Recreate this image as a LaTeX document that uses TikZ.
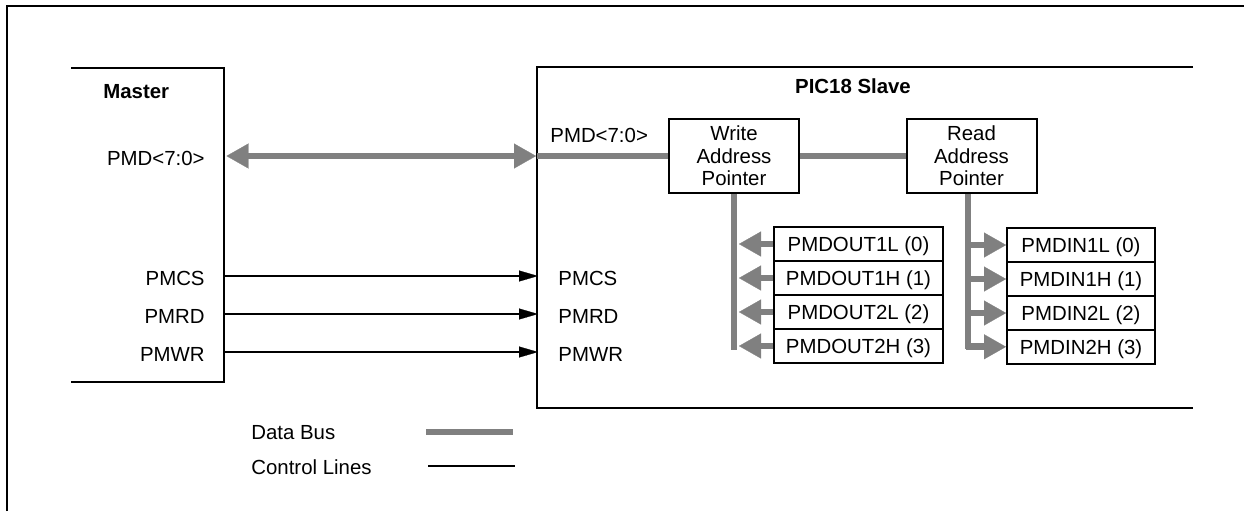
\documentclass[tikz,border=0pt]{standalone}
\usepackage{fontspec}
\setmainfont{Liberation Sans}
\usetikzlibrary{arrows.meta}
\definecolor{busgray}{RGB}{128,128,128}
\newcommand{\lblfont}{\fontsize{10.2pt}{11.25pt}\selectfont}
\begin{document}
\begin{tikzpicture}[x=0.5pt,y=-0.5pt,
  frame/.style={line width=1pt},
  bus/.style={draw=busgray,line width=3.4pt},
  busarrow/.style={bus,-{Triangle[length=11pt,width=12.5pt,line width=0.1pt]}},
  dblarrow/.style={bus,{Triangle[length=11pt,width=12.5pt,line width=0.1pt]}-{Triangle[length=11pt,width=12.5pt,line width=0.1pt]}},
  ctrl/.style={line width=1pt,-{Triangle[length=9.5pt,width=5.5pt,line width=0.1pt]}},
  lbl/.style={inner sep=0pt,font=\lblfont},
  ptr/.style={draw,line width=1pt,fill=white,minimum width=65pt,minimum height=37pt,align=center,inner sep=0pt,font=\lblfont},
  outreg/.style={draw,line width=1pt,minimum width=84.5pt,minimum height=17pt,inner sep=0pt,text depth=0pt,font=\lblfont},
  inreg/.style={draw,line width=1pt,minimum width=74pt,minimum height=17pt,inner sep=0pt,text depth=0pt,font=\lblfont}
]
\useasboundingbox (0,0) rectangle (1244,511);
% outer frame
\draw[frame] (6.5,511) -- (6.5,6) -- (1244,6);
% master box (open left)
\draw[frame,line join=miter] (71,68) -- (224,68) -- (224,382) -- (71,382);
% slave box (open right)
\draw[frame,line join=miter] (1193,67) -- (537,67) -- (537,408) -- (1193,408);

% master labels
\node[lbl,anchor=base west,font=\lblfont\bfseries] (mtitle) at (103,98) {Master};
\node[lbl,anchor=base east] (mpmd) at (205,165) {PMD<7:0>};
\node[lbl,anchor=base east] (mcs) at (205,285) {PMCS};
\node[lbl,anchor=base east] (mrd) at (205,323) {PMRD};
\node[lbl,anchor=base east] (mwr) at (205,361) {PMWR};

% slave labels
\node[lbl,anchor=base,font=\lblfont\bfseries] (stitle) at (853,93) {PIC18 Slave};
\node[lbl,anchor=base west] (spmd) at (550,142) {PMD<7:0>};
\node[lbl,anchor=base west] (scs) at (558,285) {PMCS};
\node[lbl,anchor=base west] (srd) at (558,323) {PMRD};
\node[lbl,anchor=base west] (swr) at (558,361) {PMWR};

% pointers
\node[ptr] (wap) at (734,156) {Write\\Address\\Pointer};
\node[ptr] (rap) at (971.5,156) {Read\\Address\\Pointer};

% output registers
\node[outreg] (o0) at (858.5,244) {PMDOUT1L (0)};
\node[outreg] (o1) at (858.5,278) {PMDOUT1H (1)};
\node[outreg] (o2) at (858.5,312) {PMDOUT2L (2)};
\node[outreg] (o3) at (858.5,346) {PMDOUT2H (3)};
% input registers
\node[inreg] (i0) at (1081,245) {PMDIN1L (0)};
\node[inreg] (i1) at (1081,279) {PMDIN1H (1)};
\node[inreg] (i2) at (1081,313) {PMDIN2L (2)};
\node[inreg] (i3) at (1081,347) {PMDIN2H (3)};

% coordinates for connector ends
\coordinate (mD) at (226.5,156);
\coordinate (sDtip) at (536,156);
\coordinate (sD) at (537,156);
\coordinate (mcsE) at (224,276);
\coordinate (mrdE) at (224,314);
\coordinate (mwrE) at (224,352);
\coordinate (scsW) at (538,276);
\coordinate (srdW) at (538,314);
\coordinate (swrW) at (538,352);
\coordinate (wbot) at (734,350);
\coordinate (rbot) at (968,348.5);
\coordinate (wt0) at (739,244);
\coordinate (wt1) at (739,278);
\coordinate (wt2) at (739,312);
\coordinate (wt3) at (739,346);
\coordinate (rs0) at (966.3,245);
\coordinate (rs1) at (966.3,279);
\coordinate (rs2) at (966.3,313);
\coordinate (rs3) at (966.3,346.8);

% data bus
\draw[dblarrow] (mD) -- (sDtip);
\draw[bus] (sD) -- (wap.west);
\draw[bus] (wap.east) -- (rap.west);
\draw[bus] (wap.south) -- (wbot);
\draw[bus] (rbot |- rap.south) -- (rbot);
\foreach \k in {0,1,2,3}{
  \draw[busarrow] (o\k.west) -- (wt\k);
}
\draw[busarrow] (rs0) -- (i0.west);
\draw[busarrow] (rs1) -- (i1.west);
\draw[busarrow] (rs2) -- (i2.west);
\draw[busarrow] (rs3) -- (i3.west |- rs3);

% control lines
\draw[ctrl] (mcsE) -- (scsW);
\draw[ctrl] (mrdE) -- (srdW);
\draw[ctrl] (mwrE) -- (swrW);

% legend
\node[lbl,anchor=base west] (lgbus) at (251,439) {Data Bus};
\node[lbl,anchor=base west] (lgctl) at (251,474) {Control Lines};
\coordinate (lb1) at (426,432);
\coordinate (lb2) at (513,432);
\coordinate (lc1) at (428,466);
\coordinate (lc2) at (515,466);
\draw[bus] (lb1) -- (lb2);
\draw[frame] (lc1) -- (lc2);
\end{tikzpicture}
\end{document}
